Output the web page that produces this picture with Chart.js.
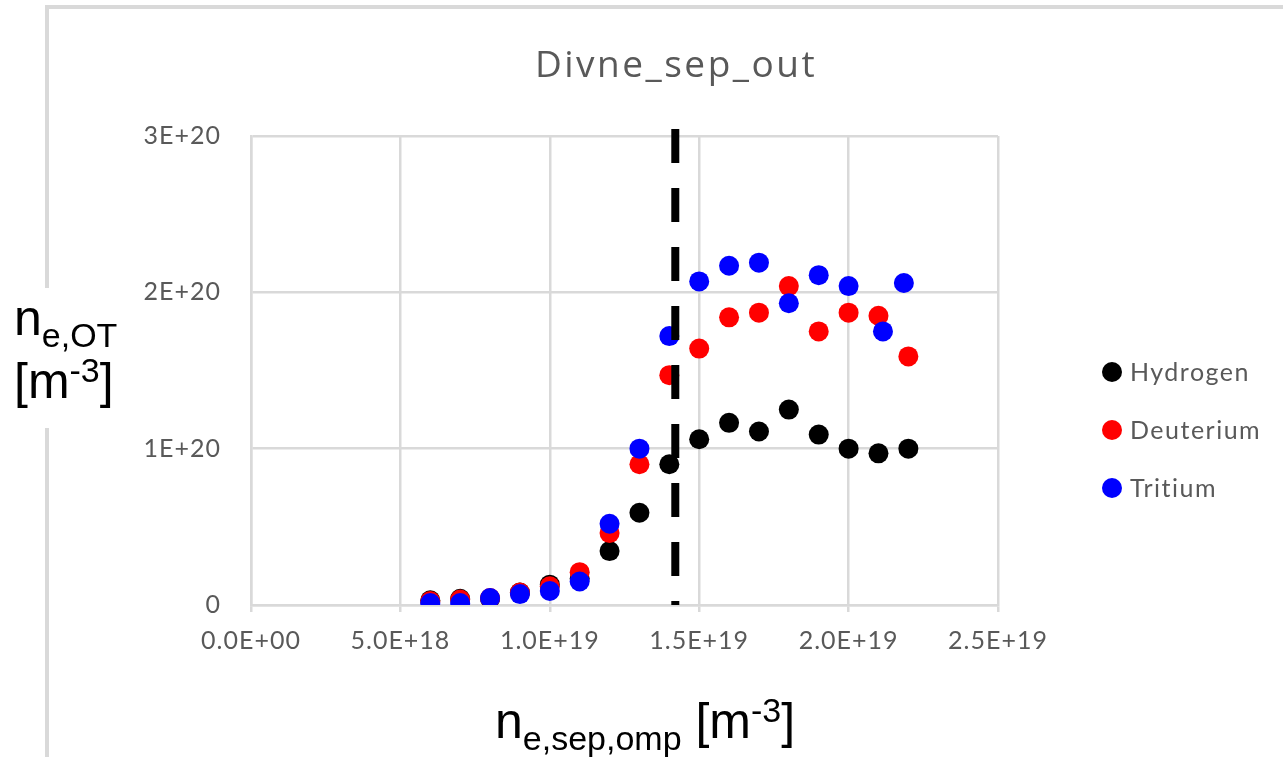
<!DOCTYPE html>
<html>
<head>
<meta charset="utf-8">
<script src="https://cdn.jsdelivr.net/npm/chart.js@4.4.1/dist/chart.umd.min.js"></script>
<style>
    html, body { margin: 0; padding: 0; background: #fff; }
    #wrap { width: 1283px; height: 757px; }
</style>
</head>
<body>
<div id="wrap"><canvas id="chart" width="1283" height="757"></canvas></div>
<script>
// データ
const xValues = [6e18, 7e18, 8e18, 9e18, 1.0e19, 1.1e19, 1.2e19, 1.3e19, 1.4e19, 1.5e19, 1.6e19, 1.7e19, 1.8e19, 1.9e19, 2.0e19, 2.1e19, 2.2e19];
const tritiumX = [6e18, 7e18, 8e18, 9e18, 1.0e19, 1.1e19, 1.2e19, 1.3e19, 1.4e19, 1.5e19, 1.6e19, 1.7e19, 1.8e19, 1.9e19, 2.0e19, 2.115e19, 2.185e19];
const hydrogen = [3e18, 4e18, 4e18, 8e18, 1.3e19, 1.7e19, 3.45e19, 5.9e19, 9.0e19, 1.06e20, 1.165e20, 1.11e20, 1.25e20, 1.09e20, 1.0e20, 0.97e20, 1.0e20];
const deuterium = [2.5e18, 3.5e18, 4.5e18, 8e18, 1.2e19, 2.1e19, 4.6e19, 9.0e19, 1.47e20, 1.64e20, 1.84e20, 1.87e20, 2.04e20, 1.75e20, 1.87e20, 1.85e20, 1.59e20];
const tritium = [1.3e18, 1.3e18, 4.5e18, 7e18, 9e18, 1.5e19, 5.2e19, 1.0e20, 1.72e20, 2.07e20, 2.17e20, 2.19e20, 1.93e20, 2.11e20, 2.04e20, 1.75e20, 2.06e20];
const seriesNames = ['Hydrogen', 'Deuterium', 'Tritium'];
const seriesColors = ['#000000', '#ff0000', '#0000ff'];
const xTickLabels = ['0.0E+00', '5.0E+18', '1.0E+19', '1.5E+19', '2.0E+19', '2.5E+19'];
const yTickLabels = ['0', '1E+20', '2E+20', '3E+20'];
const separatrixX = 1.42e19;
const separatrixTop = 3.045e20;
const chartTitle = 'Divne_sep_out';

const GRID = '#d9d9d9';
const TEXT = '#595959';

const toPoints = (xs, ys) => xs.map((x, i) => ({ x: x, y: ys[i] }));

// 下付き・上付き文字の描画
function drawRich(ctx, parts, x, y) {
    parts.forEach(p => {
        ctx.font = p.size + 'px "Liberation Sans", Arial, sans-serif';
        ctx.fillText(p.t, x, y + (p.dy || 0));
        x += ctx.measureText(p.t).width;
    });
}

const decorPlugin = {
    id: 'decor',
    beforeUpdate(chart) {
        chart.ctx.letterSpacing = '1px';
    },
    beforeDraw(chart) {
        const ctx = chart.ctx;
        ctx.letterSpacing = '1px';
        ctx.save();
        ctx.fillStyle = '#fff';
        ctx.fillRect(0, 0, chart.width, chart.height);
        // 外枠
        ctx.strokeStyle = GRID;
        ctx.lineWidth = 4;
        ctx.beginPath();
        ctx.moveTo(47, chart.height);
        ctx.lineTo(47, 7);
        ctx.lineTo(chart.width, 7);
        ctx.stroke();
        ctx.restore();
    },
    afterDraw(chart) {
        const ctx = chart.ctx;
        ctx.save();

        // タイトル
        ctx.letterSpacing = '2.5px';
        ctx.fillStyle = TEXT;
        ctx.font = '37px "Open Sans"';
        ctx.textAlign = 'center';
        ctx.textBaseline = 'alphabetic';
        ctx.fillText(chartTitle, 676, 77);

        // 凡例
        ctx.letterSpacing = '1.5px';
        ctx.font = '25px Lato';
        ctx.textAlign = 'left';
        ctx.textBaseline = 'middle';
        const rows = [372, 430, 488];
        chart.data.datasets.filter(ds => ds.inLegend).forEach((ds, i) => {
            ctx.fillStyle = ds.backgroundColor;
            ctx.beginPath();
            ctx.arc(1112, rows[i], 10, 0, Math.PI * 2);
            ctx.fill();
            ctx.fillStyle = TEXT;
            ctx.fillText(ds.label, 1130, rows[i] + 1);
        });

        // 軸タイトル
        ctx.letterSpacing = '0px';
        ctx.textBaseline = 'alphabetic';
        ctx.fillStyle = '#fff';
        ctx.fillRect(8, 288, 118, 140);
        ctx.fillStyle = '#000';
        drawRich(ctx, [{ t: 'n', size: 50 }, { t: 'e,OT', size: 34, dy: 12 }], 14, 335);
        drawRich(ctx, [{ t: '[m', size: 50 }, { t: '-3', size: 34, dy: -16 }, { t: ']', size: 50 }], 14, 398);
        drawRich(ctx, [{ t: 'n', size: 50 }, { t: 'e,sep,omp', size: 34, dy: 12 }, { t: ' [m', size: 50 }, { t: '-3', size: 34, dy: -16 }, { t: ']', size: 50 }], 495, 738);

        ctx.restore();
    }
};

const datasets = [
    {
        label: 'separatrix',
        type: 'line',
        data: [{ x: separatrixX, y: separatrixTop }, { x: separatrixX, y: 0 }],
        borderColor: '#000',
        borderWidth: 8,
        borderDash: [34, 25],
        borderCapStyle: 'butt',
        pointRadius: 0,
        clip: false,
        order: -1
    }
];
[hydrogen, deuterium, tritium].forEach((ys, i) => {
    datasets.push({
        label: seriesNames[i],
        inLegend: true,
        data: toPoints(i === 2 ? tritiumX : xValues, ys),
        backgroundColor: seriesColors[i],
        borderWidth: 0,
        pointRadius: 10,
        pointHoverRadius: 10,
        order: 3 - i
    });
});

new Chart(document.getElementById('chart'), {
    type: 'scatter',
    data: { datasets: datasets },
    options: {
        responsive: false,
        animation: false,
        devicePixelRatio: 1,
        layout: { padding: { left: 0, top: 136, right: 285, bottom: 0 } },
        plugins: {
            legend: { display: false },
            title: { display: false },
            tooltip: { enabled: false }
        },
        scales: {
            x: {
                type: 'linear',
                min: 0,
                max: 2.5e19,
                afterFit: s => { s.height = 152; },
                ticks: {
                    stepSize: 5e18,
                    color: TEXT,
                    font: { family: 'Lato', size: 25 },
                    padding: 14,
                    maxRotation: 0,
                    callback: (v, i) => xTickLabels[i]
                },
                grid: { color: GRID, lineWidth: 2.5, tickLength: 7, drawTicks: true },
                border: { color: GRID, width: 2.5 }
            },
            y: {
                min: 0,
                max: 3e20,
                afterFit: s => { s.width = 251; },
                ticks: {
                    stepSize: 1e20,
                    color: TEXT,
                    font: { family: 'Lato', size: 25 },
                    padding: 30,
                    callback: (v, i) => yTickLabels[i]
                },
                grid: { color: GRID, lineWidth: 2.5, drawTicks: false },
                border: { color: GRID, width: 2.5 }
            }
        }
    },
    plugins: [decorPlugin]
});
</script>
</body>
</html>
